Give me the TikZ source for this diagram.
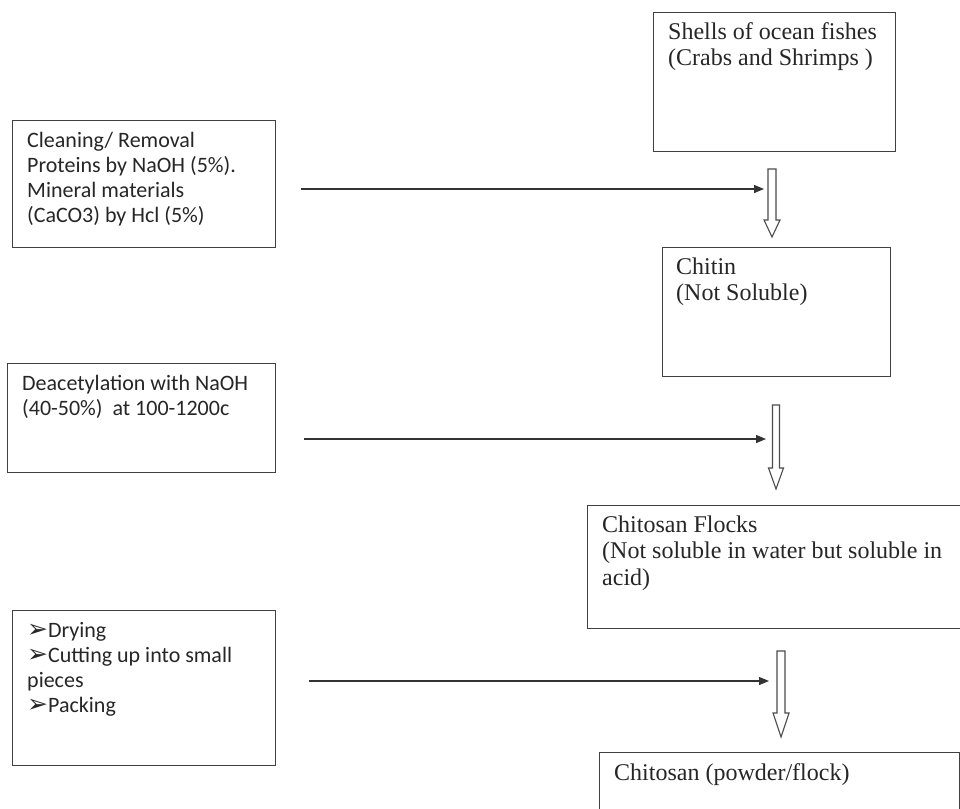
\documentclass[tikz,border=0pt]{standalone}
\usepackage{fontspec}
\newfontfamily\calfont{Carlito}
\newfontfamily\tnrfont{Liberation Serif}
\newfontfamily\dvfont{DejaVu Sans}
\usetikzlibrary{arrows.meta}
\newcommand\fl{\rule{0pt}{18pt}}
\newcommand\bul{{\dvfont\fontsize{25}{25}\selectfont ➢}}
\newcommand\hollowarr[6]{%
  \draw[hollow] (#1-#5,#2) -- (#1+#5,#2) -- (#1+#5,#3) -- (#1+#6,#3) -- (#1,#4) -- (#1-#6,#3) -- (#1-#5,#3) -- cycle;}
\begin{document}
\begin{tikzpicture}[x=1pt,y=-1pt,
  box/.style={draw=black!75,line width=1.2pt,anchor=north west,inner sep=0pt},
  ltext/.style={anchor=north west,inner sep=0pt,align=left,text=black!85,font=\calfont\fontsize{22}{25}\selectfont},
  rtext/.style={anchor=north west,inner sep=0pt,align=left,text=black!85,font=\tnrfont\fontsize{24}{26.5}\selectfont},
  flow/.style={draw=black!80,line width=1.2pt,-{Triangle[length=10pt,width=8pt]}},
  hollow/.style={draw=black!70,line width=1.1pt,fill=white,line join=miter}]
\useasboundingbox (0,0) rectangle (960,808);

% left boxes
\node[box,minimum width=263pt,minimum height=127pt] (L1) at (12,120) {};
\node[box,minimum width=268pt,minimum height=109pt] (L2) at (7,363) {};
\node[box,minimum width=263pt,minimum height=155pt] (L3) at (12,610) {};
% right boxes
\node[box,minimum width=242pt,minimum height=139pt] (R1) at (653,12) {};
\node[box,minimum width=228pt,minimum height=129pt] (R2) at (662,247) {};
\node[box,minimum width=377pt,minimum height=123pt] (R3) at (587,505) {};
\node[box,minimum width=360pt,minimum height=70pt] (R4) at (599,752) {};

% texts
\node[ltext] (t1) at (27,129) {\fl Cleaning/ Removal\\Proteins by NaOH (5\%).\\Mineral materials\\(CaCO3) by Hcl (5\%)};
\node[ltext] (t2) at (22,372) {\fl Deacetylation with NaOH\\(40-50\%)\ \ at 100-1200c};
\node[ltext] (t3) at (27,619) {\fl\bul Drying\\\bul Cutting up into small\\pieces\\\bul Packing};
\node[rtext] (t4) at (668,21) {\fl Shells of ocean fishes\\(Crabs and Shrimps )};
\node[rtext] (t5) at (676,256) {\fl Chitin\\(Not Soluble)};
\node[rtext] (t6) at (602,514) {\fl Chitosan Flocks\\(Not soluble in water but soluble in\\acid)};
\node[rtext] (t7) at (614,762) {\fl Chitosan (powder/flock)};

% horizontal connectors
\coordinate (a1s) at (301,189); \coordinate (a1e) at (764,189);
\coordinate (a2s) at (304,439); \coordinate (a2e) at (766,439);
\coordinate (a3s) at (309,681); \coordinate (a3e) at (769,681);
\draw[flow] (a1s) -- (a1e);
\draw[flow] (a2s) -- (a2e);
\draw[flow] (a3s) -- (a3e);

% hollow down arrows
\hollowarr{772}{169}{220}{237}{4}{8}
\hollowarr{776}{405}{468}{489}{3.5}{7.5}
\hollowarr{781}{651}{713}{737}{4}{8}
\end{tikzpicture}
\end{document}
